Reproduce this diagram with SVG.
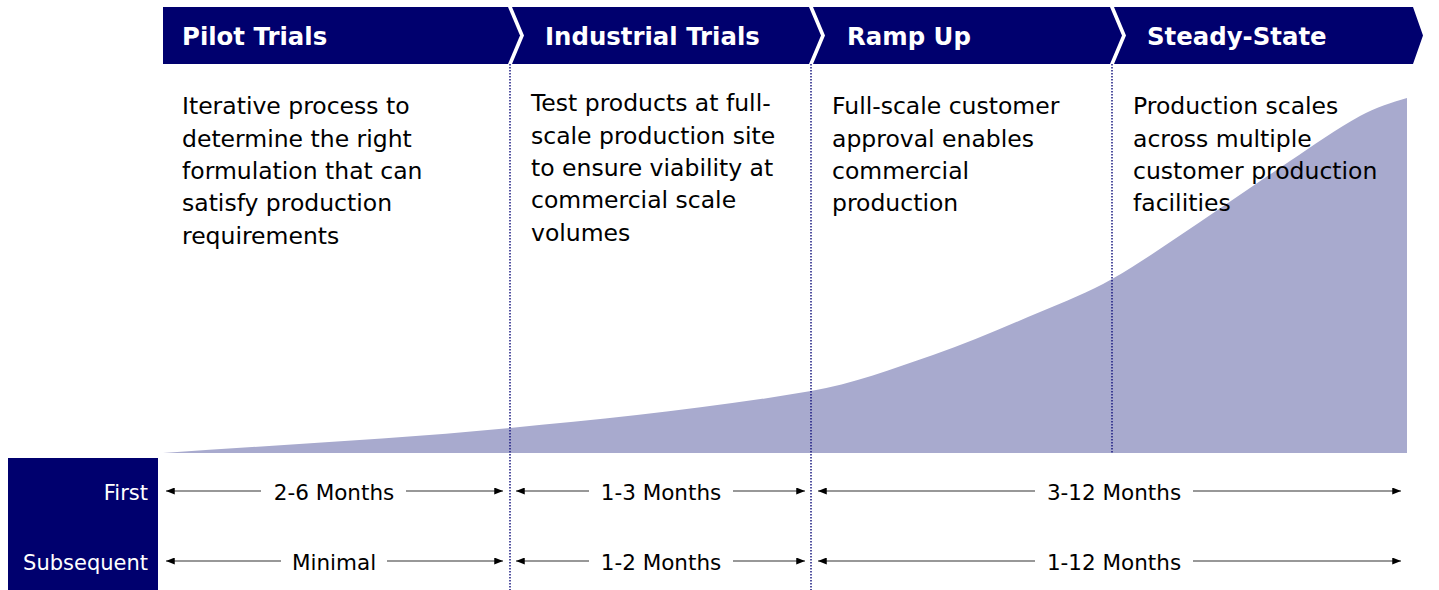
<svg xmlns="http://www.w3.org/2000/svg" width="1439" height="590" viewBox="0 0 1439 590">
<style>
.hdr{fill:#00006E}
.htxt{font-family:"DejaVu Sans",Verdana,sans-serif;font-weight:bold;font-size:24.4px;fill:#ffffff}
.body{font-family:"DejaVu Sans",Verdana,sans-serif;font-size:23.5px;fill:#000000}
.lbl{font-family:"DejaVu Sans",Verdana,sans-serif;font-size:21px;fill:#ffffff;text-anchor:end}
.dur{font-family:"DejaVu Sans",Verdana,sans-serif;font-size:21.5px;fill:#000000;text-anchor:middle}
.sep{stroke:#1a1a80;stroke-width:1.5;stroke-dasharray:1.5 1.5;fill:none}
.arr{stroke:#333333;stroke-width:1.2;fill:none;marker-end:url(#ah)}
</style>
<defs>
<marker id="ah" viewBox="0 0 10 8" refX="10" refY="4" markerWidth="9" markerHeight="7" markerUnits="userSpaceOnUse" orient="auto">
<path d="M0,0 L10,4 L0,8 Z" fill="#000000"/>
</marker>
</defs>
<rect width="1439" height="590" fill="#ffffff"/>
<g id="growth-curve">
<path d="M163,453 C278.67,444.9 394.33,439.07 510,428 C610.33,418.4 710.67,408.32 811,391 C851.67,383.98 892.33,369.03 933,355 C968.67,342.69 1004.33,327.15 1040,312 C1064,301.81 1088,292.5 1112,279 C1141.33,262.5 1170.67,241.45 1200,222 C1230,202.11 1260,180.88 1290,161 C1313.33,145.54 1336.67,128.56 1360,116 C1375.67,107.57 1391.33,102.7 1407,98 L1407,453 Z" fill="#A8AACE"/>
</g>
<g id="separators">
<line class="sep" x1="510" y1="64" x2="510" y2="590"/>
<line class="sep" x1="811" y1="64" x2="811" y2="590"/>
<line class="sep" x1="1112" y1="64" x2="1112" y2="453"/>
</g>
<g id="phase-pilot">
<path class="hdr" d="M163,7 L508,7 L520,35.5 L508,64 L163,64 Z"/>
<text class="htxt" x="182" y="45">Pilot Trials</text>
<text class="body" x="182" y="114">Iterative process to</text>
<text class="body" x="182" y="146.5">determine the right</text>
<text class="body" x="182" y="179">formulation that can</text>
<text class="body" x="182" y="211">satisfy production</text>
<text class="body" x="182" y="243.5">requirements</text>
</g>
<g id="phase-industrial">
<path class="hdr" d="M512,7 L809,7 L821,35.5 L809,64 L512,64 L524,35.5 Z"/>
<text class="htxt" x="545" y="45">Industrial Trials</text>
<text class="body" x="531" y="111">Test products at full-</text>
<text class="body" x="531" y="143.5">scale production site</text>
<text class="body" x="531" y="176">to ensure viability at</text>
<text class="body" x="531" y="208">commercial scale</text>
<text class="body" x="531" y="240.5">volumes</text>
</g>
<g id="phase-rampup">
<path class="hdr" d="M813,7 L1110,7 L1122,35.5 L1110,64 L813,64 L825,35.5 Z"/>
<text class="htxt" x="847" y="45">Ramp Up</text>
<text class="body" x="832" y="114">Full-scale customer</text>
<text class="body" x="832" y="146.5">approval enables</text>
<text class="body" x="832" y="179">commercial</text>
<text class="body" x="832" y="211">production</text>
</g>
<g id="phase-steady">
<path class="hdr" d="M1114,7 L1413,7 L1423,35.5 L1413,64 L1114,64 L1126,35.5 Z"/>
<text class="htxt" x="1147" y="45">Steady-State</text>
<text class="body" x="1133" y="114">Production scales</text>
<text class="body" x="1133" y="146.5">across multiple</text>
<text class="body" x="1133" y="179">customer production</text>
<text class="body" x="1133" y="211">facilities</text>
</g>
<g id="row-labels">
<rect x="8" y="458" width="150" height="132" fill="#00006E"/>
<text class="lbl" x="148" y="499.5">First</text>
<text class="lbl" x="148" y="569.5">Subsequent</text>
</g>
<g id="durations">
<text class="dur" x="334" y="499.5">2-6 Months</text>
<text class="dur" x="661" y="499.5">1-3 Months</text>
<text class="dur" x="1114" y="499.5">3-12 Months</text>
<text class="dur" x="334" y="569.5">Minimal</text>
<text class="dur" x="661" y="569.5">1-2 Months</text>
<text class="dur" x="1114" y="569.5">1-12 Months</text>
</g>
<g id="connectors">
<line class="arr" x1="261" y1="491" x2="166" y2="491"/>
<line class="arr" x1="406" y1="491" x2="503" y2="491"/>
<line class="arr" x1="589" y1="491" x2="516" y2="491"/>
<line class="arr" x1="733" y1="491" x2="805" y2="491"/>
<line class="arr" x1="1035" y1="491" x2="818" y2="491"/>
<line class="arr" x1="1193" y1="491" x2="1401" y2="491"/>
<line class="arr" x1="281" y1="561" x2="166" y2="561"/>
<line class="arr" x1="387" y1="561" x2="503" y2="561"/>
<line class="arr" x1="589" y1="561" x2="516" y2="561"/>
<line class="arr" x1="733" y1="561" x2="805" y2="561"/>
<line class="arr" x1="1035" y1="561" x2="818" y2="561"/>
<line class="arr" x1="1193" y1="561" x2="1401" y2="561"/>
</g>
</svg>
